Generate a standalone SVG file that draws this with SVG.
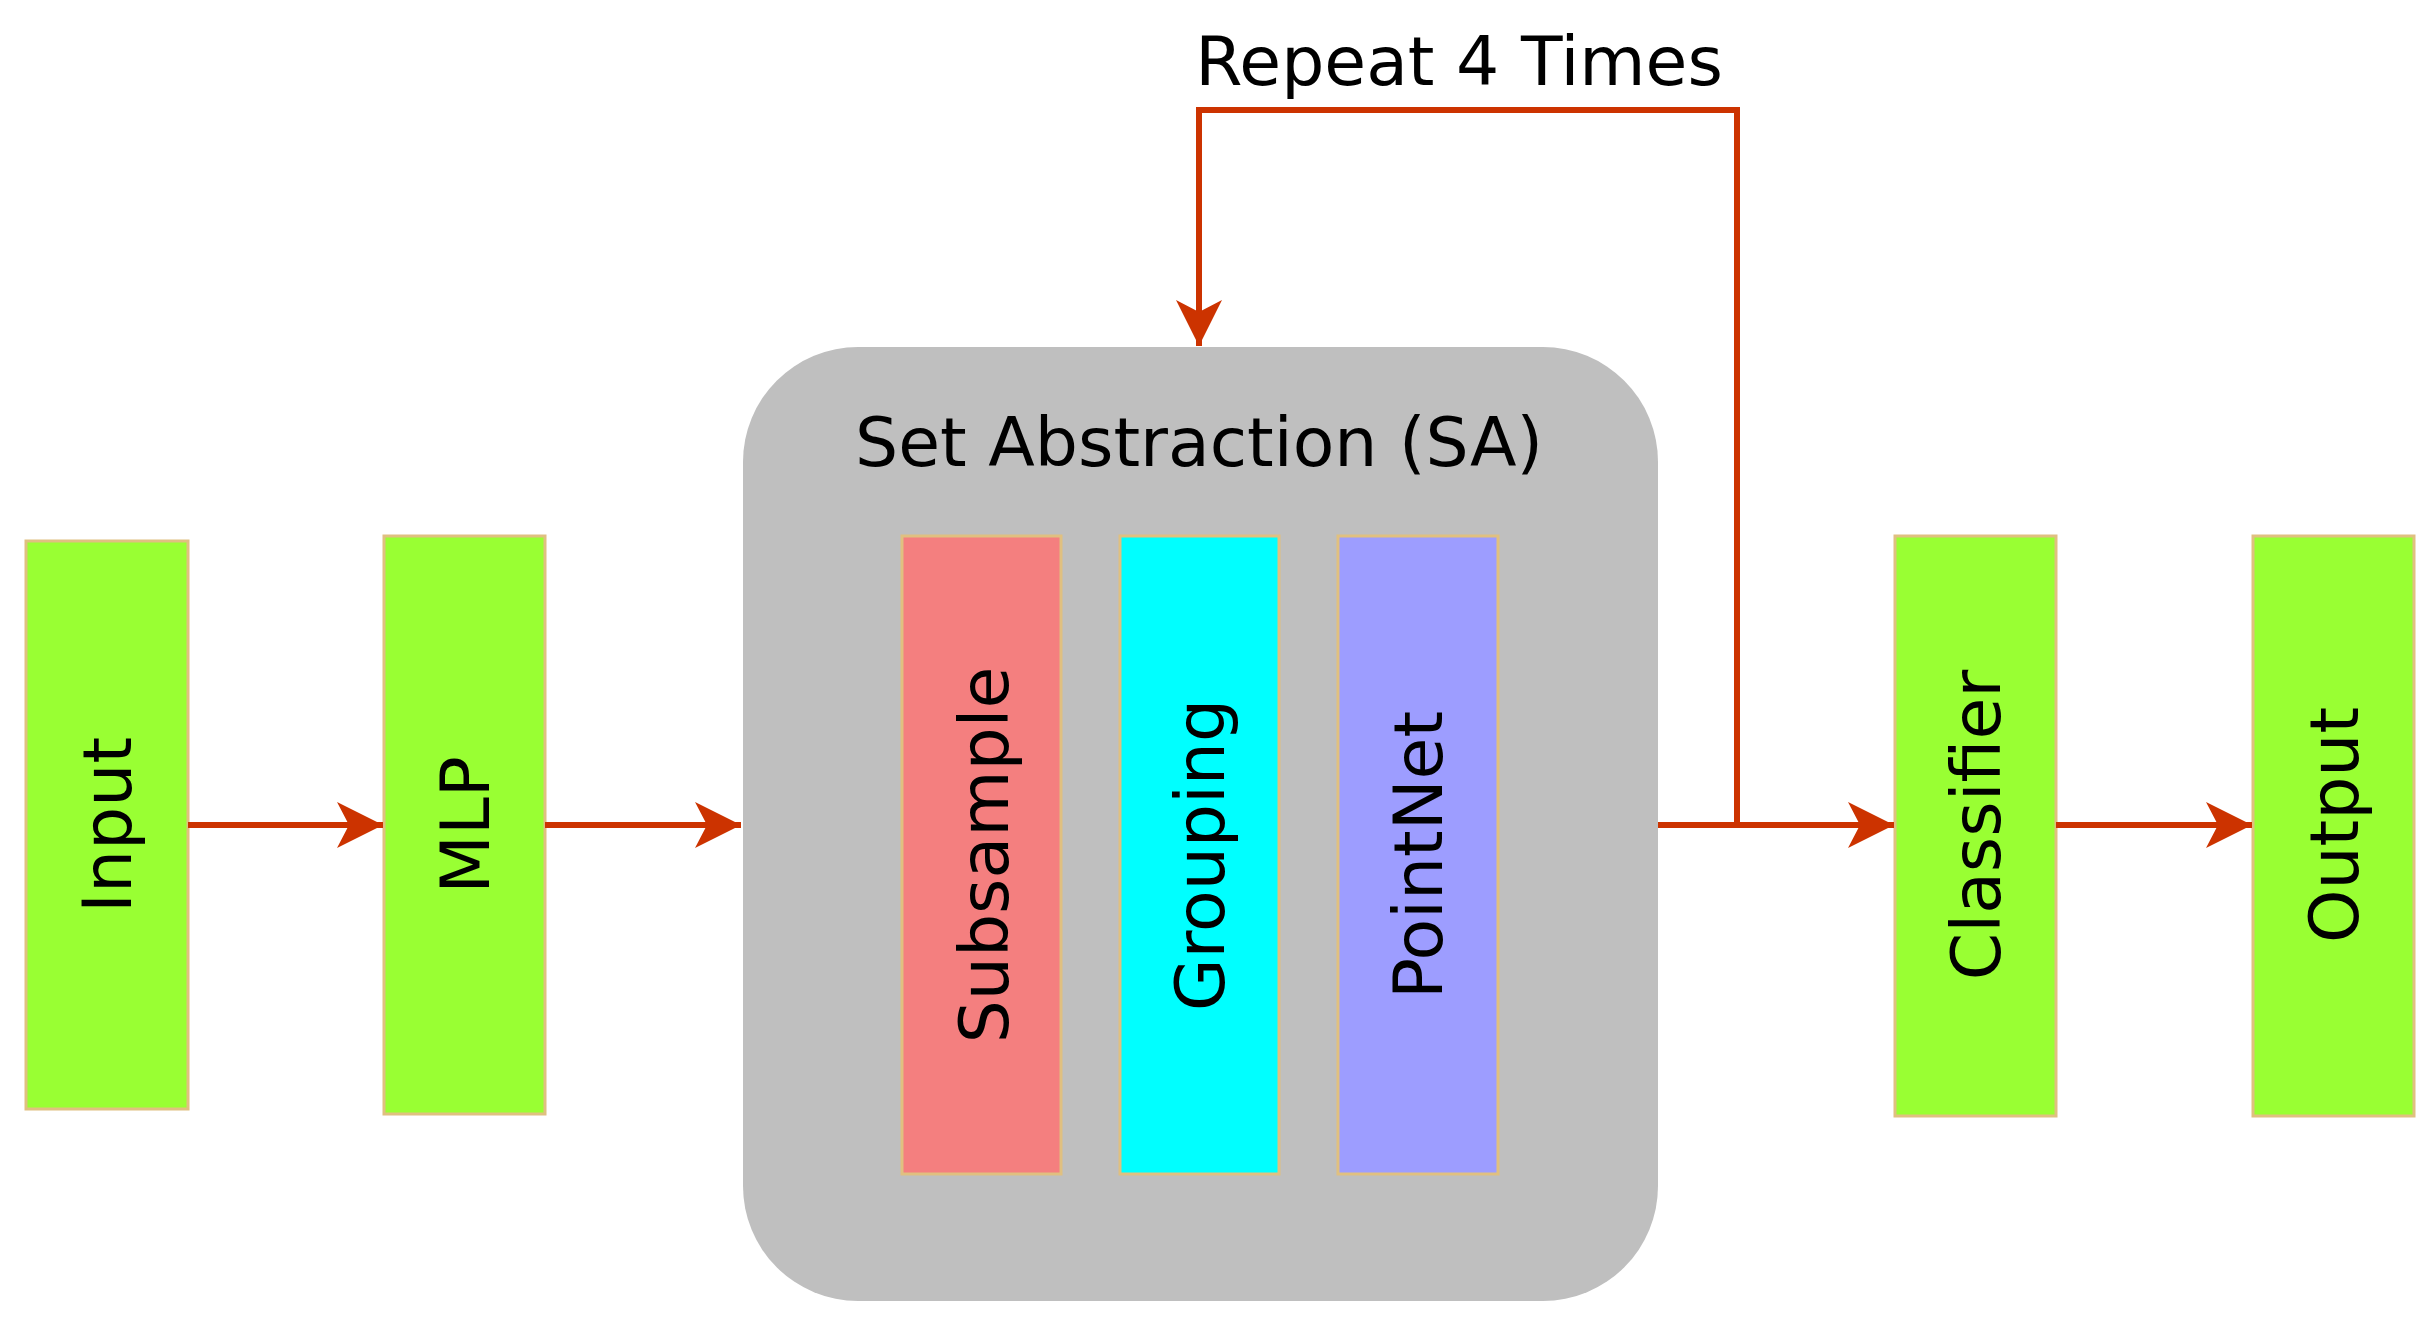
<svg xmlns="http://www.w3.org/2000/svg" width="2434" height="1329" viewBox="0 0 2434 1329">
<style>
text{font-family:"DejaVu Sans","Liberation Sans",sans-serif;font-size:68px;fill:#000}
.g{fill:#99FF33;stroke:#E0C080;stroke-width:3}
.in{stroke:#E0C080;stroke-width:3}
.c{fill:none;stroke:#CC3300;stroke-width:6}
.v{text-anchor:middle;dominant-baseline:central}
</style>
<defs>
<marker id="a" markerUnits="userSpaceOnUse" markerWidth="50" markerHeight="50" refX="46" refY="23" orient="auto"><path d="M0,0 L46,23 L0,46 L12,23 Z" fill="#CC3300"/></marker>
</defs>
<rect width="2434" height="1329" fill="#fff"/>
<g id="input"><rect class="g" x="26" y="541" width="162" height="568"/><text class="v" transform="translate(107,825) rotate(-90)">Input</text></g>
<g id="mlp"><rect class="g" x="384" y="536" width="161" height="578"/><text class="v" transform="translate(465,825) rotate(-90)">MLP</text></g>
<g id="sa"><rect x="743" y="347" width="915" height="954" rx="115" fill="#BFBFBF"/>
<text x="1199" y="466" text-anchor="middle">Set Abstraction (SA)</text>
<g id="subsample"><rect class="in" x="902" y="536" width="159" height="638" fill="#F47F7F"/><text class="v" transform="translate(984,855) rotate(-90)">Subsample</text></g>
<g id="grouping"><rect class="in" x="1120" y="536" width="159" height="638" fill="#00FFFF"/><text class="v" transform="translate(1200,855) rotate(-90)">Grouping</text></g>
<g id="pointnet"><rect class="in" x="1338" y="536" width="160" height="638" fill="#9D9DFF"/><text class="v" transform="translate(1418,855) rotate(-90)">PointNet</text></g>
</g>
<g id="classifier"><rect class="g" x="1895" y="536" width="161" height="580"/><text class="v" transform="translate(1976,825) rotate(-90)">Classifier</text></g>
<g id="output"><rect class="g" x="2253" y="536" width="161" height="580"/><text class="v" transform="translate(2334,825) rotate(-90)">Output</text></g>
<text x="1459" y="85" text-anchor="middle">Repeat 4 Times</text>
<g id="connectors">
<line class="c" x1="188" y1="825" x2="383" y2="825" marker-end="url(#a)"/>
<line class="c" x1="545" y1="825" x2="741" y2="825" marker-end="url(#a)"/>
<line class="c" x1="1658" y1="825" x2="1894" y2="825" marker-end="url(#a)"/>
<line class="c" x1="2056" y1="825" x2="2252" y2="825" marker-end="url(#a)"/>
<polyline class="c" points="1737,825 1737,110 1199,110 1199,346" marker-end="url(#a)"/>
</g>
</svg>
